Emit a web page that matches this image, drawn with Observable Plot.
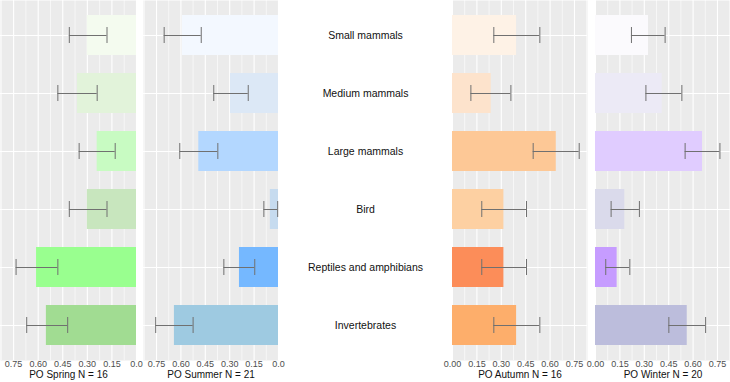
<!DOCTYPE html>
<html><head><meta charset="utf-8">
<script src="https://cdn.jsdelivr.net/npm/d3@7"></script>
<script src="https://cdn.jsdelivr.net/npm/@observablehq/plot@0.6"></script>
<style>
body{margin:0;background:#fff;}
#chart{position:relative;width:730px;height:382px;overflow:hidden;font-family:"Liberation Sans",Arial,sans-serif;}
#chart svg{position:absolute;top:0;overflow:visible;}
</style></head><body><div id="chart"></div>
<script>
const categories = ["Small mammals","Medium mammals","Large mammals","Bird","Reptiles and amphibians","Invertebrates"];

const springValues = [0.30, 0.36, 0.24, 0.30, 0.61, 0.55];
const springLow    = [0.18, 0.24, 0.13, 0.18, 0.48, 0.42];
const springHigh   = [0.41, 0.48, 0.35, 0.41, 0.735, 0.67];

const summerValues = [0.59, 0.295, 0.49, 0.05, 0.24, 0.64];
const summerLow    = [0.475, 0.186, 0.373, 0.005, 0.146, 0.525];
const summerHigh   = [0.703, 0.398, 0.607, 0.09, 0.336, 0.755];

const autumnValues = [0.394, 0.238, 0.638, 0.316, 0.316, 0.394];
const autumnLow    = [0.254, 0.113, 0.496, 0.18, 0.18, 0.254];
const autumnHigh   = [0.537, 0.359, 0.779, 0.455, 0.455, 0.537];

const winterValues = [0.326, 0.41, 0.658, 0.18, 0.133, 0.564];
const winterLow    = [0.221, 0.31, 0.551, 0.096, 0.063, 0.451];
const winterHigh   = [0.428, 0.531, 0.765, 0.27, 0.211, 0.677];

const springColors = ["#F4FBEF","#E2F3DA","#C8FBC2","#C8E6BE","#99FF8F","#A1DC92"];
const summerColors = ["#F3F8FF","#DCE8F6","#B3D7FF","#C6DBEF","#75B8FF","#9ECAE1"];
const autumnColors = ["#FEF2E6","#FDE3CC","#FDC896","#FDD0A2","#FC8D59","#FDAE6B"];
const winterColors = ["#FBFAFD","#ECEAF6","#E0CCFF","#DADAEB","#C69CFF","#BCBDDC"];

const majorTicks = [0, 0.15, 0.30, 0.45, 0.60, 0.75];
const minorTicks = [0.075, 0.225, 0.375, 0.525, 0.675, 0.825];
const leftTickLabels  = ["0.0","0.15","0.30","0.45","0.60","0.75"];
const rightTickLabels = ["0.00","0.15","0.30","0.45","0.60","0.75"];

const titles = ["PO Spring N = 16","PO Summer N = 21","PO Autumn N = 16","PO Winter N = 20"];

const xMax = 0.83;
const H = 382, MB = 22;
const yScale = {type: "band", domain: categories, paddingInner: 0.31, paddingOuter: 0.255, axis: null};
const FONT = '"Liberation Sans", Arial, sans-serif';

function panel(o) {
  const data = categories.map((c, i) => ({category: c, value: o.values[i], lo: o.low[i], hi: o.high[i], color: o.colors[i]}));
  const svg = Plot.plot({
    width: o.width, height: H, marginTop: 0, marginBottom: MB, marginLeft: o.ml, marginRight: o.mr,
    style: {fontFamily: FONT, background: "transparent", overflow: "visible", color: "#4D4D4D"},
    x: {domain: [0, xMax], reverse: o.reverse, axis: null},
    y: yScale,
    color: {type: "identity"},
    marks: [
      Plot.frame({fill: "#EBEBEB", stroke: null}),
      Plot.ruleX(minorTicks, {stroke: "white", strokeWidth: 0.6}),
      Plot.ruleX(majorTicks, {stroke: "white", strokeWidth: 1.1}),
      Plot.ruleY(categories, {stroke: "white", strokeWidth: 1.1}),
      Plot.barX(data, {x: "value", y: "category", fill: "color"}),
      Plot.ruleY(data, {y: "category", x1: "lo", x2: "hi", stroke: "#707070", strokeWidth: 1}),
      Plot.tickX(data, {x: "lo", y: "category", stroke: "#707070", strokeWidth: 1, insetTop: 12, insetBottom: 12}),
      Plot.tickX(data, {x: "hi", y: "category", stroke: "#707070", strokeWidth: 1, insetTop: 12, insetBottom: 12}),
      Plot.text(majorTicks, {x: d => d, text: (d, i) => o.tickLabels[i], frameAnchor: "bottom", dy: 6, fontSize: 9, fill: "#4D4D4D"}),
      Plot.text([o.title], {frameAnchor: "bottom", dy: 17, fontSize: 10, fill: "#111"})
    ]
  });
  svg.style.left = o.left + "px";
  return svg;
}

const chart = document.getElementById("chart");
chart.appendChild(panel({values: springValues, low: springLow, high: springHigh, colors: springColors, tickLabels: leftTickLabels, title: titles[0], reverse: true, left: 0, width: 140, ml: 0, mr: 4}));
chart.appendChild(panel({values: summerValues, low: summerLow, high: summerHigh, colors: summerColors, tickLabels: leftTickLabels, title: titles[1], reverse: true, left: 140, width: 140, ml: 3, mr: 2}));

const labels = Plot.plot({
  width: 170, height: H, marginTop: 0, marginBottom: MB, marginLeft: 0, marginRight: 0,
  style: {fontFamily: FONT, background: "transparent", overflow: "visible"},
  y: yScale,
  marks: [
    Plot.text(categories, {y: d => d, text: d => d, frameAnchor: "middle", fontSize: 10.5, fill: "#111"})
  ]
});
labels.style.left = "280px";
chart.appendChild(labels);

chart.appendChild(panel({values: autumnValues, low: autumnLow, high: autumnHigh, colors: autumnColors, tickLabels: rightTickLabels, title: titles[2], reverse: false, left: 450, width: 140, ml: 2, mr: 3}));
chart.appendChild(panel({values: winterValues, low: winterLow, high: winterHigh, colors: winterColors, tickLabels: rightTickLabels, title: titles[3], reverse: false, left: 590, width: 140, ml: 5, mr: 0}));
</script>
</body></html>
